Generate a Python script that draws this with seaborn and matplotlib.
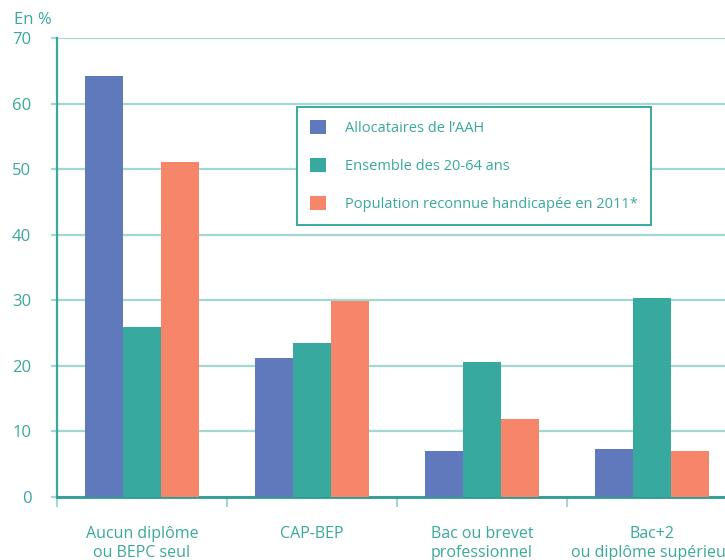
import pandas as pd
import matplotlib.pyplot as plt
import seaborn as sns
from matplotlib.ticker import FixedLocator

# Data
categories = ['Aucun diplôme\nou BEPC seul', 'CAP-BEP',
              'Bac ou brevet\nprofessionnel', 'Bac+2\nou diplôme supérieur']
series = ['Allocataires de l\u2019AAH', 'Ensemble des 20-64 ans',
          'Population reconnue handicapée en 2011*']
aah = [64.2, 21.2, 7.0, 7.3]
ensemble = [25.9, 23.5, 20.6, 30.3]
handicap = [51.1, 29.9, 11.9, 7.0]

df = pd.DataFrame({
    'Diplome': categories * 3,
    'Serie': [series[0]] * 4 + [series[1]] * 4 + [series[2]] * 4,
    'Valeur': aah + ensemble + handicap,
})

sns.set_theme(style='white')
plt.rcParams['font.family'] = ['Open Sans', 'DejaVu Sans']

teal_text = '#3aa89c'
grid_col = '#a3d8d0'
palette = ['#6079bc', '#37a99f', '#f5866a']

fig = plt.figure(figsize=(7.25, 5.6), dpi=100)
ax = fig.add_axes([57 / 725, 63 / 560, 680 / 725, 459 / 560])

sns.barplot(data=df, x='Diplome', y='Valeur', hue='Serie', palette=palette,
            width=0.665, gap=0, saturation=1, linewidth=0, ax=ax, zorder=3)

ax.set_ylim(0, 70)
ax.set_xlim(-0.5, 3.5)
ax.set_yticks(range(0, 71, 10))
ax.grid(axis='y', color=grid_col, linewidth=1.6, zorder=0)
ax.set_axisbelow(True)

for s in ['top', 'right']:
    ax.spines[s].set_visible(False)
ax.spines['left'].set_color(teal_text)
ax.spines['left'].set_linewidth(1.6)
ax.spines['bottom'].set_color('#2e9c90')
ax.spines['bottom'].set_linewidth(2)

ax.tick_params(axis='y', length=4.5, width=1.6, color=grid_col, pad=14,
               labelsize=12, labelcolor=teal_text, left=True)
ax.tick_params(axis='x', which='major', length=0, pad=21, labelsize=11.5,
               labelcolor=teal_text)
ax.xaxis.set_minor_locator(FixedLocator([-0.5, 0.5, 1.5, 2.5, 3.5]))
ax.tick_params(axis='x', which='minor', length=7, width=1.5,
               color=grid_col, bottom=True)

ax.set_xlabel('')
ax.set_ylabel('')

fig.text(14 / 725, 1 - 20 / 560, 'En %', color=teal_text, fontsize=12,
         va='center', ha='left')

leg = ax.legend(loc='upper left', bbox_to_anchor=(240 / 680, (497 - 107) / 459),
                frameon=True, fancybox=False, fontsize=10.5, labelspacing=1.5,
                handlelength=1.1, handleheight=1.1, handletextpad=1.3,
                borderpad=0.9, borderaxespad=0, title=None)
leg.get_frame().set_edgecolor(teal_text)
leg.get_frame().set_linewidth(1.4)
leg.get_frame().set_facecolor('white')
leg.get_frame().set_alpha(1)
for t in leg.get_texts():
    t.set_color(teal_text)
leg.set_zorder(5)

fig.savefig('out.png', dpi=100)
